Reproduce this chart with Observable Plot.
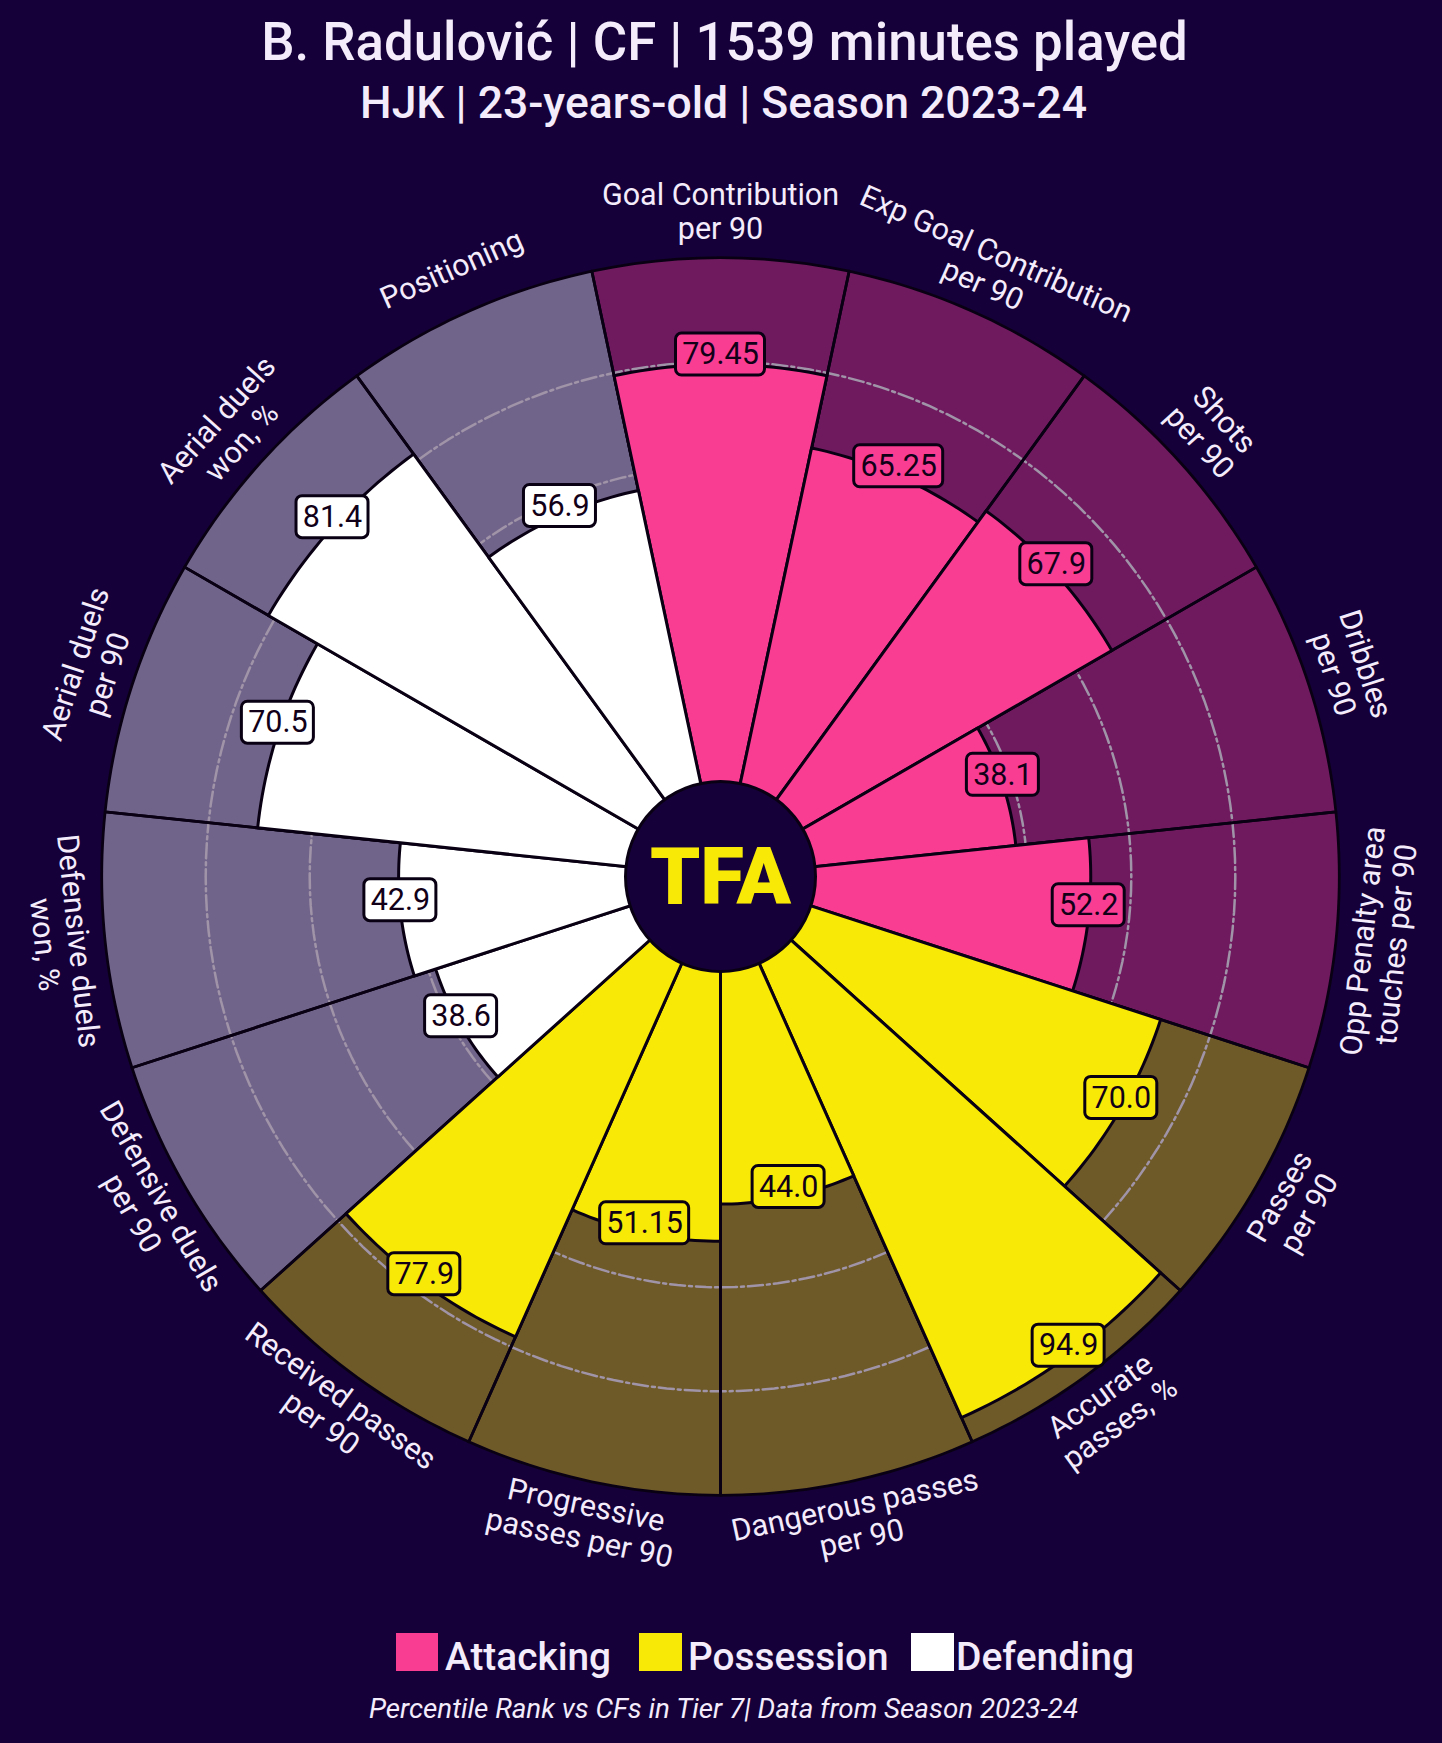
<!DOCTYPE html>
<html>
<head>
<meta charset="utf-8">
<script src="https://cdn.jsdelivr.net/npm/d3@7"></script>
<script src="https://cdn.jsdelivr.net/npm/@observablehq/plot@0.6"></script>
<style>
html,body{margin:0;padding:0;background:#15003a;}
#page{position:relative;width:1442px;height:1743px;overflow:hidden;background:#15003a;font-family:Roboto,sans-serif;color:#f4ecfa;}
.t{position:absolute;white-space:nowrap;line-height:1;}
.sw{position:absolute;}
#chart{position:absolute;left:-1px;top:126px;}
svg{display:block;}
</style>
</head>
<body>
<div id="page">
<div class="t" id="title" style="left:0;width:1449px;text-align:center;top:16px;font-size:52.8px;font-weight:500;">B. Radulović | CF | 1539 minutes played</div>
<div class="t" id="subtitle" style="left:0;width:1447px;text-align:center;top:81px;font-size:44.5px;font-weight:500;">HJK | 23-years-old | Season 2023-24</div>
<div id="chart"></div>
<div class="sw" style="left:396px;top:1633px;width:42px;height:38px;background:#f93d93"></div>
<div class="t" style="left:445px;top:1638px;font-size:38.8px;font-weight:500;">Attacking</div>
<div class="sw" style="left:639px;top:1633px;width:43px;height:38px;background:#f8ea06"></div>
<div class="t" style="left:688px;top:1638px;font-size:38.8px;font-weight:500;">Possession</div>
<div class="sw" style="left:911px;top:1633px;width:43px;height:38px;background:#ffffff"></div>
<div class="t" style="left:956px;top:1638px;font-size:39px;font-weight:500;">Defending</div>
<div class="t" style="left:369px;top:1695px;font-size:27.76px;font-style:italic;">Percentile Rank vs CFs in Tier 7| Data from Season 2023-24</div>
</div>
<script>
const metrics = [
  "Goal Contribution\nper 90", "Exp Goal Contribution\nper 90", "Shots\nper 90", "Dribbles\nper 90",
  "Opp Penalty area\ntouches per 90", "Passes\nper 90", "Accurate\npasses, %", "Dangerous passes\nper 90",
  "Progressive\npasses per 90", "Received passes\nper 90", "Defensive duels\nper 90", "Defensive duels\nwon, %",
  "Aerial duels\nper 90", "Aerial duels\nwon, %", "Positioning"
];
const values = [79.45, 65.25, 67.9, 38.1, 52.2, 70.0, 94.9, 44.0, 51.15, 77.9, 38.6, 42.9, 70.5, 81.4, 56.9];
const groups = ["Attacking","Attacking","Attacking","Attacking","Attacking",
  "Possession","Possession","Possession","Possession","Possession",
  "Defending","Defending","Defending","Defending","Defending"];
const barColors = {Attacking:"#f93d93", Possession:"#f8ea06", Defending:"#ffffff"};
const backColors = {Attacking:"#6f1a5e", Possession:"#6e5a28", Defending:"#71648a"};
const rings = [20, 40, 60, 80];

const W = 1442, H = 1500;
const PX = 5.2;              // pixels per percentile point
const OFFSET = 19;           // radial origin of percentile 0, in percentile points
const STEP = 360 / metrics.length;
const rad = v => v + OFFSET;
const polar = (v, deg) => {
  const t = deg * Math.PI / 180, r = rad(v);
  return {x: r * Math.sin(t), y: r * Math.cos(t)};
};
const rows = metrics.map((metric, i) => ({metric, value: values[i], group: groups[i], angle: i * STEP}));

function wedge(d, v, color) {
  const pts = [{x: 0, y: 0, key: d.metric, color}];
  for (let k = 0; k <= 24; k++) pts.push({...polar(v, d.angle - STEP / 2 + k * STEP / 24), key: d.metric, color});
  pts.push({x: 0, y: 0, key: d.metric, color});
  return pts;
}
const backs = rows.flatMap(d => wedge(d, 100, backColors[d.group]));
const bars = rows.flatMap(d => wedge(d, d.value, barColors[d.group]));
const ringPts = rings.flatMap(v => d3.range(0, 361, 2).map(a => ({...polar(v, a), ring: v})));

const nameRows = rows.map(d => {
  const p = {x: 662 / PX * Math.sin(d.angle * Math.PI / 180), y: 662 / PX * Math.cos(d.angle * Math.PI / 180)};
  const rot = d.angle <= 90 ? d.angle : d.angle < 270 ? d.angle - 180 : d.angle - 360;
  return {...p, text: d.metric, rot};
});
const fmt = v => v.toFixed(Math.round(v * 100) % 10 === 0 ? 1 : 2);
const valueRows = rows.map(d => {
  const p = polar(d.value, d.angle), s = fmt(d.value);
  const hw = (s.length > 4 ? 44.5 : 36) / PX, hh = 21 / PX;
  return {...p, x1: p.x - hw, x2: p.x + hw, y1: p.y - hh, y2: p.y + hh, text: s, color: barColors[d.group]};
});

const LINE = "#0a0014";
const chart = Plot.plot({
  width: W, height: H, margin: 0,
  style: {background: "transparent"},
  x: {axis: null, domain: [-W / 2 / PX, W / 2 / PX]},
  y: {axis: null, domain: [-H / 2 / PX, H / 2 / PX]},
  color: {type: "identity"},
  marks: [
    Plot.line(backs, {x: "x", y: "y", z: "key", fill: "color", stroke: "none"}),
    Plot.line(ringPts, {x: "x", y: "y", z: "ring", stroke: "#a094a8", strokeWidth: 2.5, strokeDasharray: "15,4,3,4"}),
    Plot.line(backs, {x: "x", y: "y", z: "key", stroke: LINE, strokeWidth: 2.8, strokeLinejoin: "round"}),
    Plot.line(bars, {x: "x", y: "y", z: "key", fill: "color", stroke: LINE, strokeWidth: 3, strokeLinejoin: "round"}),
    Plot.dot([{x: 0, y: 0}], {x: "x", y: "y", r: 95, fill: "#15003a", stroke: LINE, strokeWidth: 3}),
    Plot.text([{x: 0, y: 0, t: "TFA"}], {x: "x", y: "y", text: "t", fill: "#f8ea06", fontFamily: "Roboto", fontWeight: 900, fontSize: 80, dy: 2}),
    Plot.rect(valueRows, {x1: "x1", x2: "x2", y1: "y1", y2: "y2", fill: "color", stroke: LINE, strokeWidth: 3, rx: 6, dy: -10}),
    Plot.text(valueRows, {x: "x", y: "y", text: "text", fill: "#110018", fontFamily: "Roboto", fontSize: 30.5, dy: -10}),
    Plot.text(nameRows, {x: "x", y: "y", text: "text", rotate: "rot", fill: "#f4ecfa", fontFamily: "Roboto", fontSize: 30.5, lineHeight: 1.1, dy: -3})
  ]
});
document.getElementById("chart").appendChild(chart);
</script>
</body>
</html>
